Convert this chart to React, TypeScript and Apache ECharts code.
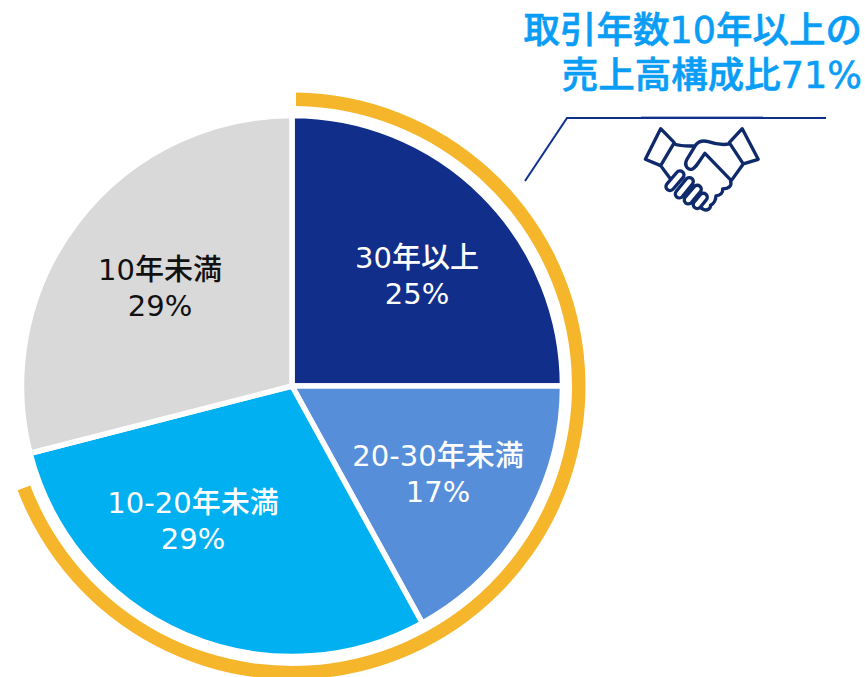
import React, { useEffect, useRef } from "react";
import * as echarts from "echarts";

const categories = ["30年以上", "20-30年未満", "10-20年未満", "10年未満"];
const shares = [25, 17, 29, 29];
const sliceColors = ["#102E8A", "#568ED9", "#00B0F0", "#D9D9D9"];
const labelColors = ["#FFFFFF", "#FFFFFF", "#FFFFFF", "#111111"];
const labelCentres = [[417, 276], [438, 474], [193, 521], [160, 288]];
const ringShares = [69, 31];
const titleLines = "取引年数10年以上の\n売上高構成比71%";
const FONT = '"DejaVu Sans", "Noto Sans CJK JP", sans-serif';

const handshake =
  "M62 26 L103 68 L62 137 L16 118 Z " +
  "M307 26 L268 68 L310 132 L355 118 Z " +
  "M103 72 C125 80 145 78 165 78 " +
  "M268 72 C245 76 225 72 205 65 C190 61 178 62 168 74 L140 120 C132 135 142 150 155 148 C165 146 170 135 195 100 L272 180 " +
  "M310 132 L272 185 C276 195 270 206 248 207 C250 218 242 226 228 228 C228 242 222 250 212 256 C212 266 202 274 190 268 L180 262 " +
  "M62 137 L90 175 " +
  "M129 173 L99 208 A12 12 0 0 1 81 192 L111 157 A12 12 0 0 1 129 173 Z " +
  "M157 193 L127 230 A12 12 0 0 1 109 214 L139 177 A12 12 0 0 1 157 193 Z " +
  "M181 216 L154 248 A12 12 0 0 1 136 232 L163 200 A12 12 0 0 1 181 216 Z " +
  "M199 240 L181 262 A12 12 0 0 1 163 246 L181 224 A12 12 0 0 1 199 240 Z";

echarts.graphic.registerShape("handshake", echarts.graphic.extendPath(handshake, {}));

export default function App() {
  const ref = useRef<HTMLDivElement>(null);
  useEffect(() => {
    const chart = echarts.init(ref.current!, undefined, { renderer: "svg" });
    chart.setOption({
      animation: false,
      backgroundColor: "#FFFFFF",
      series: [
        {
          type: "pie",
          silent: true,
          center: [292, 386],
          radius: [280, 293.5],
          startAngle: 89.2,
          clockwise: true,
          label: { show: false },
          labelLine: { show: false },
          data: [
            { value: ringShares[0], name: "ring", itemStyle: { color: "#F6B62C" } },
            { value: ringShares[1], name: "rest", itemStyle: { color: "transparent" } },
          ],
        },
        {
          type: "pie",
          silent: true,
          center: [292, 386],
          radius: [0, 270.5],
          startAngle: 90,
          clockwise: true,
          itemStyle: { borderColor: "#FFFFFF", borderWidth: 5.5 },
          labelLine: { show: false },
          label: {
            show: true,
            position: "inside",
            fontFamily: FONT,
            fontSize: 29,
            fontWeight: 500,
            lineHeight: 36,
            formatter: (p: any) => `${p.name}\n${p.value}%`,
          },
          labelLayout: (p: any) => ({
            x: labelCentres[p.dataIndex][0],
            y: labelCentres[p.dataIndex][1],
            align: "center",
            verticalAlign: "middle",
          }),
          data: categories.map((name, i) => ({
            name,
            value: shares[i],
            itemStyle: { color: sliceColors[i] },
            label: { color: labelColors[i] },
          })),
        },
      ],
      graphic: [
        {
          type: "text",
          x: 862,
          y: 8,
          style: {
            text: titleLines,
            fill: "#0A9DF5",
            stroke: "#0A9DF5",
            lineWidth: 0.6,
            font: `500 36.5px ${FONT}`,
            lineHeight: 45,
            align: "right",
            verticalAlign: "top",
          },
        },
        {
          type: "line",
          shape: { x1: 641, y1: 116.5, x2: 763, y2: 116.5 },
          style: { stroke: "#A9B4D6", lineWidth: 1 },
        },
        {
          type: "polyline",
          shape: { points: [[525, 181], [567, 118], [826, 118]] },
          style: { stroke: "#0F2F8C", lineWidth: 2, fill: "none" },
        },
        {
          type: "handshake",
          x: 640,
          y: 120,
          scaleX: 1 / 3,
          scaleY: 1 / 3,
          style: { stroke: "#0F2A6B", lineWidth: 10, fill: "none", lineJoin: "round", lineCap: "round" },
        },
      ],
    });
    return () => chart.dispose();
  }, []);
  return <div ref={ref} style={{ position: "absolute", left: 0, top: 0, width: 865, height: 677 }} />;
}
